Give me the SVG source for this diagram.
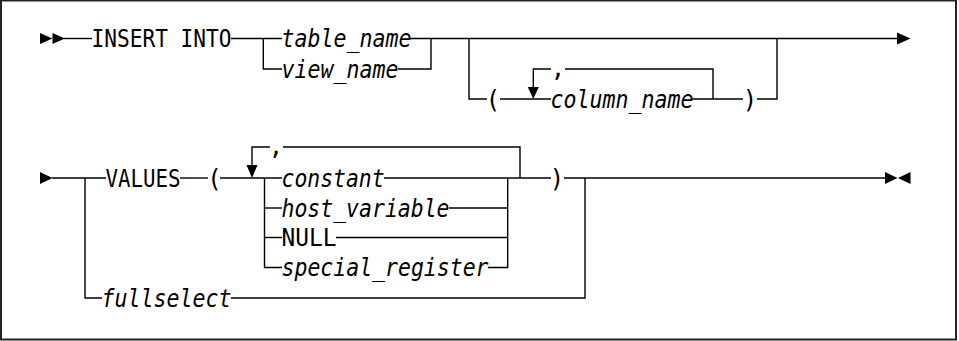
<svg xmlns="http://www.w3.org/2000/svg" width="959" height="341" viewBox="0 0 959 341">
<style>
text{font-family:"DejaVu Sans Mono","Liberation Mono",monospace;font-size:24px;fill:#000}
.i{font-style:oblique}
.c{text-anchor:middle}
#connectors path{fill:none;stroke:#000;stroke-width:1.4;stroke-linejoin:miter;stroke-linecap:butt}
.ah{fill:#000;stroke:none}
</style>
<rect x="1" y="0.5" width="955" height="339" fill="#fff" stroke="#222" stroke-width="2"/>
<g id="connectors">
  <path d="M64 38.5H92"/>
  <path d="M231 38.5H282"/>
  <path d="M263.3 38.5V69H282"/>
  <path d="M410 38.5H898"/>
  <path d="M398 69H431V38.5"/>
  <path d="M469 38.5V99H487"/>
  <path d="M500 99H551"/>
  <path d="M533.3 88V69H551"/>
  <path d="M565 69H713V99"/>
  <path d="M692 99H743"/>
  <path d="M757 99H777V38.5"/>
  <path d="M52 178H106"/>
  <path d="M85 178V298H102"/>
  <path d="M180 178H208"/>
  <path d="M220 178H282"/>
  <path d="M252 166V147H270"/>
  <path d="M283 147H520V178"/>
  <path d="M264.5 178V267.5H282"/>
  <path d="M264.5 208H282"/>
  <path d="M264.5 237.5H282"/>
  <path d="M384 178H551"/>
  <path d="M449 208H507.7"/>
  <path d="M336 237.5H507.7"/>
  <path d="M488 267.5H507.7V178"/>
  <path d="M564 178H886"/>
  <path d="M231 298H585V178"/>
  <polygon class="ah" points="40,33 40,44 52.5,38.5"/>
  <polygon class="ah" points="52.5,33 52.5,44 65,38.5"/>
  <polygon class="ah" points="897,32.5 897,44.5 910.5,38.5"/>
  <polygon class="ah" points="527.8,87 538.8,87 533.3,99"/>
  <polygon class="ah" points="40,172 40,184 52.5,178"/>
  <polygon class="ah" points="246.5,165 257.5,165 252,178"/>
  <polygon class="ah" points="885,172 885,184 897.5,178"/>
  <polygon class="ah" points="910.5,172 910.5,184 898,178"/>
</g>
<g id="insert-into"><text x="91.5" y="47" textLength="140" lengthAdjust="spacingAndGlyphs">INSERT INTO</text></g>
<g id="table-name"><text class="i" x="281.5" y="47" textLength="130" lengthAdjust="spacingAndGlyphs">table_name</text></g>
<g id="view-name"><text class="i" x="281.5" y="77.5" textLength="117" lengthAdjust="spacingAndGlyphs">view_name</text></g>
<g id="lparen1"><text class="c" x="493" y="107.5">(</text></g>
<g id="comma1"><text class="c" x="558" y="77">,</text></g>
<g id="column-name"><text class="i" x="550.5" y="107.5" textLength="143" lengthAdjust="spacingAndGlyphs">column_name</text></g>
<g id="rparen1"><text class="c" x="750" y="107.5">)</text></g>
<g id="values"><text x="105.5" y="186.5" textLength="75" lengthAdjust="spacingAndGlyphs">VALUES</text></g>
<g id="lparen2"><text class="c" x="214.5" y="186.5">(</text></g>
<g id="comma2"><text class="c" x="276" y="155">,</text></g>
<g id="constant"><text class="i" x="281.5" y="186.5" textLength="103" lengthAdjust="spacingAndGlyphs">constant</text></g>
<g id="host-variable"><text class="i" x="281.5" y="216.5" textLength="168" lengthAdjust="spacingAndGlyphs">host_variable</text></g>
<g id="null"><text x="281.5" y="246" textLength="55" lengthAdjust="spacingAndGlyphs">NULL</text></g>
<g id="special-register"><text class="i" x="281.5" y="276" textLength="207" lengthAdjust="spacingAndGlyphs">special_register</text></g>
<g id="rparen2"><text class="c" x="557" y="186.5">)</text></g>
<g id="fullselect"><text class="i" x="101.5" y="306.5" textLength="130" lengthAdjust="spacingAndGlyphs">fullselect</text></g>
</svg>
